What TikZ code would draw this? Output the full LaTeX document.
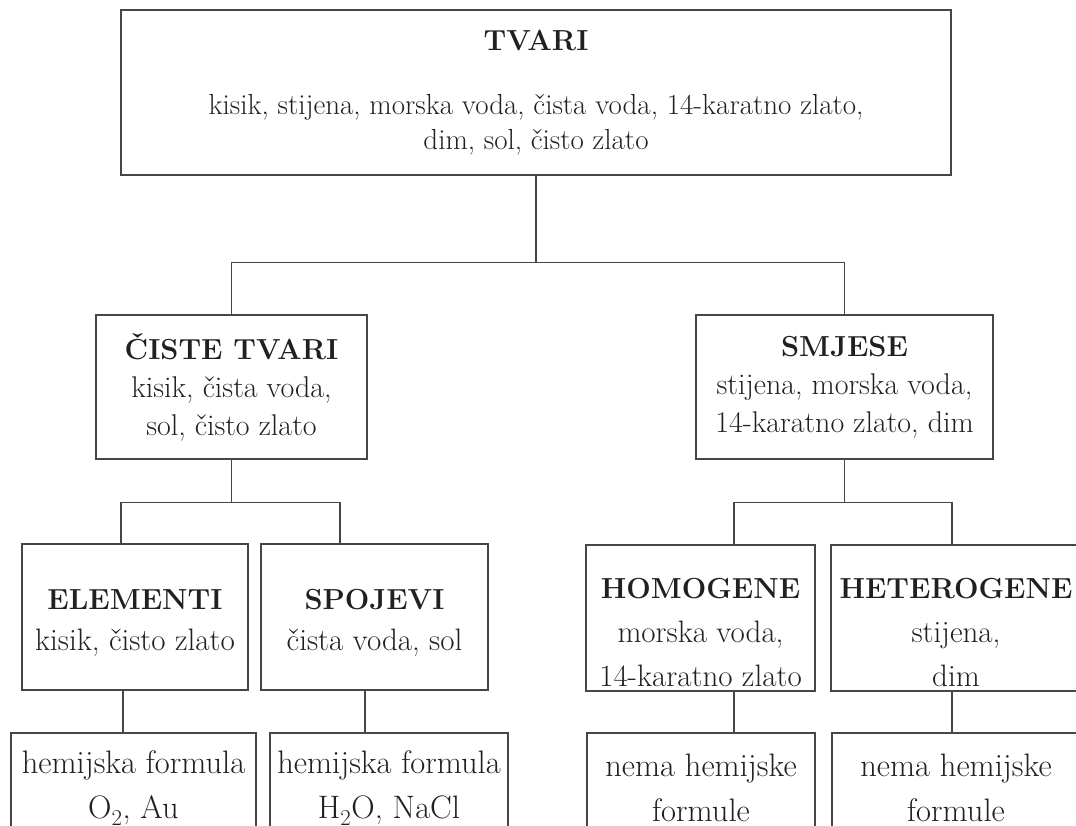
\documentclass[tikz,border=0pt]{standalone}
\usepackage{xcolor}
\usepackage{tikz}
\usetikzlibrary{positioning, calc}
\definecolor{mydark}{RGB}{35,31,32}
\definecolor{mygray}{RGB}{70,70,70}
\newcommand{\ttl}[1]{{\fontsize{29}{29}\selectfont\bfseries #1}}
\newcommand{\boxstrut}[1]{\rule{0pt}{#1pt}}
\tikzset{
  block/.style={rectangle, draw=mygray, line width=1.5pt, align=center,
    inner sep=0pt, text=mydark},
  rowa/.style={block, font=\fontsize{29}{35}\selectfont},
  rowb/.style={block, font=\fontsize{30}{38}\selectfont, minimum height=144pt},
  rowc/.style={block, font=\fontsize{31}{41}\selectfont, minimum height=146pt},
  rowd/.style={block, font=\fontsize{32.5}{45}\selectfont, minimum height=110pt},
  line/.style={line width=1.4pt, color=mygray}
}

\begin{document}
\begin{tikzpicture}[x=1pt, y=-1pt]
\useasboundingbox (0,0) rectangle (1076,825);
\clip (0,0) rectangle (1076,825);
% tvari
\node[rowa, minimum width=830pt, minimum height=165pt] (tvari) at (536,92.5)
  {\ttl{TVARI}\\[29pt] kisik, stijena, morska voda, čista voda, 14-karatno zlato,\\ dim, sol, čisto zlato};
% ciste tvari / smjese
\node[rowb, minimum width=271pt] (ciste) at (231.5,387)
  {\ttl{ČISTE TVARI}\\ kisik, čista voda,\\ sol, čisto zlato};
\node[rowb, minimum width=297pt] (smjese) at (844.5,387)
  {\ttl{SMJESE}\\ stijena, morska voda,\\ 14-karatno zlato, dim};
% vrste
\node[rowc, minimum width=226pt] (elem) at (135,617)
  {\boxstrut{31}\ttl{ELEMENTI}\\ kisik, čisto zlato};
\node[rowc, minimum width=227pt] (spoj) at (374.5,617)
  {\boxstrut{31}\ttl{SPOJEVI}\\ čista voda, sol};
\node[rowc, font=\fontsize{31}{44}\selectfont, minimum width=229pt] (homo) at (700.5,618)
  {\boxstrut{50}\ttl{HOMOGENE}\\ morska voda,\\ 14-karatno zlato};
\node[rowc, font=\fontsize{31}{44}\selectfont, minimum width=250pt] (hetero) at (956,618)
  {\boxstrut{50}\ttl{HETEROGENE}\\ stijena,\\ dim};
% formule
\node[rowd, minimum width=245pt] (f1) at (133.5,788)
  {hemijska formula\\ O\textsubscript{2}, Au};
\node[rowd, minimum width=238pt] (f2) at (389,788)
  {hemijska formula\\ H\textsubscript{2}O, NaCl};
\node[rowd, minimum width=228pt] (f3) at (701,788)
  {nema hemijske\\ formule};
\node[rowd, minimum width=248pt] (f4) at (956,788)
  {nema hemijske\\ formule};

\draw[line] (tvari.south) -- ++(0,87) coordinate (j0);
\draw[line] (ciste.north) |- (j0) -| (smjese.north);
\draw[line] (ciste.south) -- ++(0,43) coordinate (j1);
\draw[line] ([xshift=-14pt]elem.north) |- (j1) -| ([xshift=-34.5pt]spoj.north);
\draw[line] (smjese.south) -- ++(0,43) coordinate (j2);
\draw[line] ([xshift=33.5pt]homo.north) |- (j2) -| ([xshift=-4pt]hetero.north);
\draw[line] ([xshift=-12pt]elem.south) -- ([xshift=-10.5pt]f1.north);
\draw[line] ([xshift=-9.5pt]spoj.south) -- ([xshift=-24pt]f2.north);
\draw[line] ([xshift=33.5pt]homo.south) -- ([xshift=33pt]f3.north);
\draw[line] ([xshift=-4pt]hetero.south) -- ([xshift=-4pt]f4.north);
\end{tikzpicture}
\end{document}
